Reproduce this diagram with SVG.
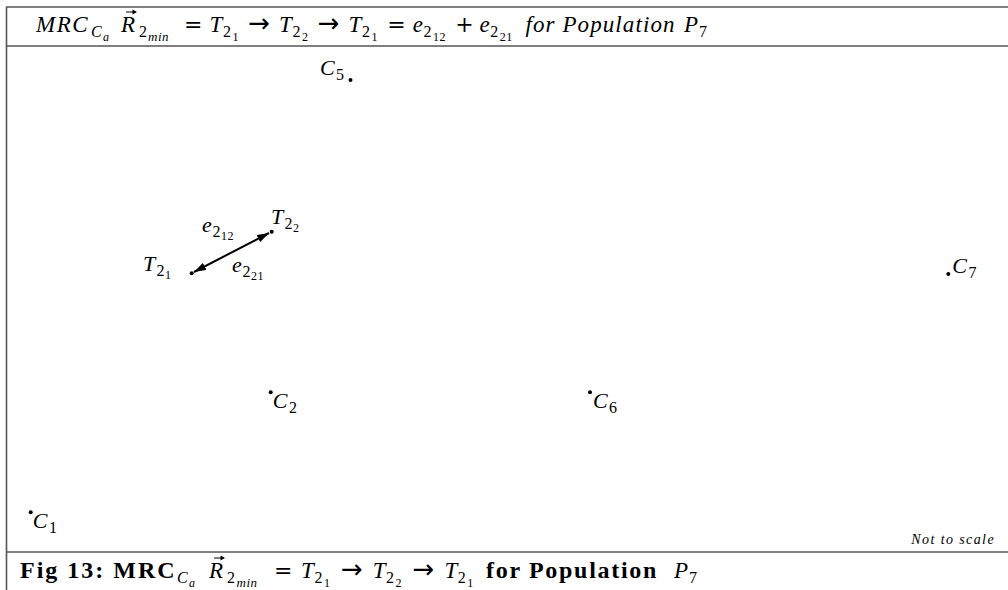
<svg xmlns="http://www.w3.org/2000/svg" width="1008" height="590" viewBox="0 0 1008 590">
<style>
text{font-family:"Liberation Serif","DejaVu Serif",serif;fill:#000}
.i{font-style:italic}
.op{font-family:"DejaVu Serif","DejaVu Sans",serif;font-style:normal;font-weight:normal}
.ar{font-family:"DejaVu Sans",sans-serif;font-style:normal;font-weight:normal}
.nb{font-weight:normal}
.frame{stroke:#555;stroke-width:1.6;fill:none}
.lbl{font-size:22px}
.dot{fill:#000}
.vec{stroke:#000;stroke-width:1;fill:none}
</style>
<defs>
<marker id="ah" viewBox="0 0 12 8" refX="12" refY="4" markerWidth="12" markerHeight="8" orient="auto-start-reverse" markerUnits="userSpaceOnUse">
<path d="M0,0 L12,4 L0,8 Z" fill="#000"/>
</marker>
</defs>
<rect width="1008" height="590" fill="#fff"/>
<g id="frame">
<line class="frame" x1="6" y1="7" x2="1008" y2="7"/>
<line class="frame" x1="6" y1="46" x2="1008" y2="46"/>
<line class="frame" x1="6" y1="552" x2="1008" y2="552"/>
<line class="frame" x1="6.5" y1="7" x2="6.5" y2="590"/>
</g>
<g id="header">
<text font-size="23"><tspan class="i" x="36" y="32" letter-spacing="1.5">MRC</tspan><tspan class="i" x="91" y="37" font-size="16">C</tspan><tspan class="i" x="103" y="41" font-size="12">a</tspan><tspan class="i" x="121" y="32">R</tspan><tspan x="139" y="37" font-size="16">2</tspan><tspan class="i" x="148" y="41" font-size="13" letter-spacing="0.5">min</tspan><tspan class="op" x="184" y="32" font-size="22">=</tspan><tspan class="i" x="209.6" y="32">T</tspan><tspan x="223" y="37" font-size="16">2</tspan><tspan x="232.5" y="41" font-size="12">1</tspan><tspan class="ar" x="248.2" y="32" font-size="26">→</tspan><tspan class="i" x="279.1" y="32">T</tspan><tspan x="292.5" y="37" font-size="16">2</tspan><tspan x="302" y="41" font-size="12">2</tspan><tspan class="ar" x="317.7" y="32" font-size="26">→</tspan><tspan class="i" x="348.5" y="32">T</tspan><tspan x="362" y="37" font-size="16">2</tspan><tspan x="371.5" y="41" font-size="12">1</tspan><tspan class="op" x="387.2" y="32" font-size="22">=</tspan><tspan class="i" x="412.7" y="32">e</tspan><tspan x="423.5" y="37" font-size="16">2</tspan><tspan x="433" y="41" font-size="12" letter-spacing="0.5">12</tspan><tspan class="op" x="455.3" y="32" font-size="22">+</tspan><tspan class="i" x="479.4" y="32">e</tspan><tspan x="490.2" y="37" font-size="16">2</tspan><tspan x="499.7" y="41" font-size="12" letter-spacing="0.5">21</tspan><tspan class="i" x="525.4" y="32" letter-spacing="1.1">for Population</tspan><tspan class="i" x="684" y="32">P</tspan><tspan x="699" y="37" font-size="16">7</tspan></text>
<path class="vec" d="M126,12 H135.5"/>
<path d="M132.5,9.5 L137,12 L132.5,14.5 Z" fill="#000"/>
</g>
<g id="connectors">
<line x1="194" y1="272" x2="269" y2="233" stroke="#000" stroke-width="2" marker-start="url(#ah)" marker-end="url(#ah)"/>
</g>
<g id="T21">
<circle class="dot" cx="191.7" cy="273.3" r="2"/>
<text class="lbl" x="143" y="271"><tspan class="i">T</tspan><tspan x="156.5" y="276" font-size="16">2</tspan><tspan x="165" y="279" font-size="12">1</tspan></text>
</g>
<g id="T22">
<circle class="dot" cx="271.7" cy="231.7" r="2"/>
<text class="lbl" x="271" y="224"><tspan class="i">T</tspan><tspan x="284.5" y="229" font-size="16">2</tspan><tspan x="293" y="232" font-size="12">2</tspan></text>
</g>
<g id="e-labels">
<text class="lbl" x="202" y="232"><tspan class="i">e</tspan><tspan x="212.5" y="237" font-size="16">2</tspan><tspan x="221" y="240" font-size="12" letter-spacing="0.5">12</tspan></text>
<text class="lbl" x="232" y="272"><tspan class="i">e</tspan><tspan x="242.5" y="277" font-size="16">2</tspan><tspan x="251" y="280" font-size="12" letter-spacing="0.5">21</tspan></text>
</g>
<g id="C5">
<circle class="dot" cx="350.5" cy="80" r="2"/>
<text class="lbl" x="320" y="75"><tspan class="i">C</tspan><tspan x="336" y="80" font-size="16">5</tspan></text>
</g>
<g id="C7">
<circle class="dot" cx="948.3" cy="274" r="2"/>
<text class="lbl" x="952.3" y="273"><tspan class="i">C</tspan><tspan x="968.5" y="278" font-size="16">7</tspan></text>
</g>
<g id="C2">
<circle class="dot" cx="270.7" cy="392.3" r="2"/>
<text class="lbl" x="272.7" y="408"><tspan class="i">C</tspan><tspan x="289" y="413" font-size="16">2</tspan></text>
</g>
<g id="C6">
<circle class="dot" cx="590" cy="392.3" r="2"/>
<text class="lbl" x="593" y="408"><tspan class="i">C</tspan><tspan x="609" y="413" font-size="16">6</tspan></text>
</g>
<g id="C1">
<circle class="dot" cx="30.7" cy="512.3" r="2"/>
<text class="lbl" x="32.7" y="528"><tspan class="i">C</tspan><tspan x="49" y="533" font-size="16">1</tspan></text>
</g>
<text class="i" x="995" y="544" font-size="14" letter-spacing="1.4" text-anchor="end">Not to scale</text>
<g id="footer">
<text font-size="23" font-weight="bold"><tspan x="20" y="578" font-size="24" letter-spacing="2">Fig 13: MRC</tspan><tspan class="i nb" x="177" y="583" font-size="16">C</tspan><tspan class="i nb" x="189" y="587" font-size="12">a</tspan><tspan class="i nb" x="209" y="578">R</tspan><tspan class="nb" x="227" y="583" font-size="16">2</tspan><tspan class="i nb" x="236.5" y="587" font-size="13" letter-spacing="0.5">min</tspan><tspan class="op" x="274" y="578" font-size="22">=</tspan><tspan class="i nb" x="301" y="578">T</tspan><tspan class="nb" x="314.4" y="583" font-size="16">2</tspan><tspan class="nb" x="323.9" y="587" font-size="12">1</tspan><tspan class="ar" x="341" y="578" font-size="26">→</tspan><tspan class="i nb" x="372.7" y="578">T</tspan><tspan class="nb" x="386" y="583" font-size="16">2</tspan><tspan class="nb" x="395.5" y="587" font-size="12">2</tspan><tspan class="ar" x="412.6" y="578" font-size="26">→</tspan><tspan class="i nb" x="444.4" y="578">T</tspan><tspan class="nb" x="457.8" y="583" font-size="16">2</tspan><tspan class="nb" x="467.3" y="587" font-size="12">1</tspan><tspan x="486" y="578" font-size="24" letter-spacing="1.7">for Population</tspan><tspan class="i nb" x="674" y="578">P</tspan><tspan class="nb" x="689" y="583" font-size="16">7</tspan></text>
<path class="vec" d="M214,558 H223.5"/>
<path d="M220.5,555.5 L225,558 L220.5,560.5 Z" fill="#000"/>
</g>
</svg>
